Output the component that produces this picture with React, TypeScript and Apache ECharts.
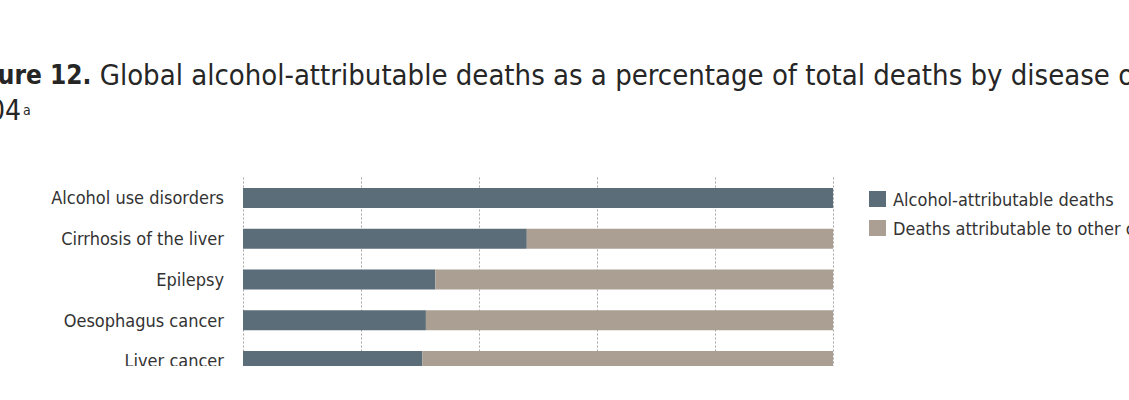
import React, { useEffect, useRef } from "react";
import * as echarts from "echarts";

const categories = [
  "Alcohol use disorders",
  "Cirrhosis of the liver",
  "Epilepsy",
  "Oesophagus cancer",
  "Liver cancer",
];
const alcoholShare = [100, 48.1, 32.6, 31.0, 30.4];
const otherShare = [0, 51.9, 67.4, 69.0, 69.6];
const seriesNames = [
  "Alcohol-attributable deaths",
  "Deaths attributable to other causes",
];
const titleMain =
  "Global alcohol-attributable deaths as a percentage of total deaths by disease or injury,";
const titleLead = "Figure 12.";
const titleYear = "2004";
const titleNote = "a";

const FONT = "'Liberation Sans Narrow', 'DejaVu Sans Condensed', 'Roboto Condensed', sans-serif";
const OX = 60; // hidden strip on the left
const INNER_W = 1129 + OX + 320;

export default function App() {
  const ref = useRef<HTMLDivElement>(null);
  useEffect(() => {
    if (!ref.current) return;
    const chart = echarts.init(ref.current, undefined, { renderer: "svg" });
    chart.setOption({
      animation: false,
      backgroundColor: "#ffffff",
      textStyle: { fontFamily: FONT },
      graphic: [
        {
          type: "text",
          left: OX - 43,
          top: 60,
          style: {
            text: `{b|${titleLead}} ${titleMain}`,
            font: `29px ${FONT}`,
            fill: "#262626",
            rich: {
              b: { fontFamily: FONT, fontSize: 26, fontWeight: "bold", fill: "#262626" },
            },
          },
        },
        {
          type: "text",
          x: OX + 21,
          y: 124,
          style: {
            text: titleYear,
            font: `28px ${FONT}`,
            fill: "#262626",
            textAlign: "right",
            textVerticalAlign: "bottom",
          },
        },
        {
          type: "text",
          x: OX + 23,
          y: 103,
          style: {
            text: titleNote,
            font: `14px ${FONT}`,
            fill: "#262626",
            textAlign: "left",
            textVerticalAlign: "top",
          },
        },
      ],
      legend: {
        orient: "vertical",
        left: 869 + OX,
        top: 190,
        padding: 0,
        itemWidth: 17,
        itemHeight: 16,
        itemGap: 11,
        icon: "rect",
        textStyle: { fontFamily: FONT, fontSize: 18, lineHeight: 18, color: "#333333", padding: [0, 0, 0, 2] },
        data: seriesNames,
      },
      grid: {
        left: 243 + OX,
        right: INNER_W - (833 + OX),
        top: 177.5,
        height: 203.75,
        containLabel: false,
      },
      xAxis: {
        type: "value",
        min: 0,
        max: 100,
        interval: 20,
        axisLabel: { show: false },
        axisLine: { show: false },
        axisTick: { show: false },
        splitLine: { show: true, lineStyle: { color: "#a6a6a6", type: [2, 2], width: 1 } },
      },
      yAxis: {
        type: "category",
        inverse: true,
        data: categories,
        axisLine: { show: false },
        axisTick: { show: false },
        axisLabel: { fontFamily: FONT, fontSize: 18, color: "#333333", margin: 19 },
      },
      series: [
        {
          name: seriesNames[0],
          type: "bar",
          stack: "total",
          data: alcoholShare,
          barWidth: 20,
          itemStyle: { color: "#5b6d78" },
        },
        {
          name: seriesNames[1],
          type: "bar",
          stack: "total",
          data: otherShare,
          barWidth: 20,
          itemStyle: { color: "#ab9f93" },
        },
      ],
    });
    return () => chart.dispose();
  }, []);
  return (
    <div style={{ position: "fixed", left: 0, top: 0, width: 1129, height: 366, overflow: "hidden", background: "#fff" }}>
      <div ref={ref} style={{ position: "absolute", left: -OX, top: 0, width: INNER_W, height: 400 }} />
    </div>
  );
}
